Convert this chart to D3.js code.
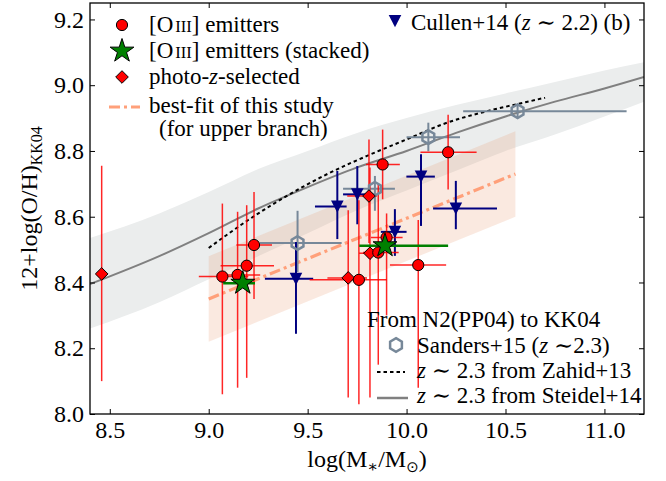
<!DOCTYPE html>
<html>
<head>
<meta charset="utf-8">
<script src="https://cdn.jsdelivr.net/npm/d3@7"></script>
<style>
  body { margin: 0; background: #fff; }
  svg { display: block; }
  text { font-family: "Liberation Serif", "DejaVu Serif", serif; fill: #000; }
</style>
</head>
<body>
<div id="chart"></div>
<script>
// ---------------- data ----------------
const xTicks = [8.5, 9.0, 9.5, 10.0, 10.5, 11.0];
const yTicks = [8.0, 8.2, 8.4, 8.6, 8.8, 9.0, 9.2];

// Steidel+14 relation (converted to KK04) and its scatter band
const steidelX  = [8.4, 8.75, 9.0, 9.25, 9.5, 9.75, 10.0, 10.25, 10.5, 10.75, 11.0, 11.2];
const steidelY  = [8.395, 8.48, 8.55, 8.625, 8.69, 8.75, 8.80, 8.855, 8.905, 8.95, 8.99, 9.025];
const steidelHi = [8.535, 8.61, 8.675, 8.745, 8.80, 8.855, 8.90, 8.94, 8.975, 9.01, 9.045, 9.07];
const steidelLo = [8.26, 8.34, 8.41, 8.48, 8.55, 8.62, 8.68, 8.74, 8.80, 8.85, 8.905, 8.95];

// Zahid+13 relation
const zahidX = [9.0, 9.2, 9.4, 9.6, 9.8, 10.0, 10.2, 10.4, 10.6, 10.7];
const zahidY = [8.505, 8.59, 8.665, 8.73, 8.785, 8.835, 8.885, 8.92, 8.948, 8.962];

// best-fit of this study (upper branch) and its band
const fitX   = [9.0, 10.55];
const fitY   = [8.35, 8.73];
const fitBand = 0.13;

// [OIII] emitters
const oiiiX   = [9.069, 9.146, 9.192, 9.229, 9.759, 9.857, 9.899, 10.059, 9.879, 10.21];
const oiiiY   = [8.418, 8.423, 8.451, 8.514, 8.408, 8.491, 8.537, 8.453, 8.759, 8.796];
const oiiiXLo = [8.95, 9.04, 9.06, 9.14, 9.51, 9.78, 9.82, 9.916, 9.795, 10.07];
const oiiiXHi = [9.20, 9.26, 9.33, 9.32, 9.90, 9.96, 9.98, 10.20, 9.966, 10.354];
const oiiiYLo = [8.06, 8.08, 8.11, 8.35, 8.03, 8.15, 8.30, 8.08, 8.653, 8.683];
const oiiiYHi = [8.64, 8.615, 8.635, 8.675, 8.65, 8.70, 8.61, 8.59, 8.865, 8.91];

// photo-z-selected
const photX   = [8.459, 9.81, 9.705, 9.815];
const photY   = [8.426, 8.663, 8.414, 8.489];
const photXLo = [8.459, 9.70, 9.60, 9.76];
const photXHi = [8.459, 9.85, 9.80, 9.87];
const photYLo = [8.10, 8.52, 8.05, 8.05];
const photYHi = [8.755, 8.835, 8.62, 8.75];

// Cullen+14
const cullX   = [9.441, 9.65, 9.751, 10.073, 10.249, 9.941];
const cullY   = [8.411, 8.631, 8.668, 8.722, 8.625, 8.554];
const cullXLo = [9.284, 9.537, 9.679, 9.999, 10.134, 9.87];
const cullXHi = [9.528, 9.697, 9.815, 10.143, 10.457, 10.0];
const cullYLo = [8.244, 8.532, 8.577, 8.572, 8.562, 8.481];
const cullYHi = [8.523, 8.739, 8.754, 8.79, 8.709, 8.623];

// Sanders+15
const sandX   = [9.449, 9.84, 10.11, 10.561];
const sandY   = [8.52, 8.685, 8.842, 8.921];
const sandXLo = [9.259, 9.679, 10.0, 10.286];
const sandXHi = [9.672, 9.941, 10.27, 11.112];
const sandYLo = [8.432, 8.618, 8.799, 8.90];
const sandYHi = [8.618, 8.724, 8.886, 8.94];

// stacked [OIII] emitters
const stackX   = [9.172, 9.891];
const stackY   = [8.398, 8.512];
const stackXLo = [9.073, 9.761];
const stackXHi = [9.234, 10.21];

// ---------------- layout ----------------
const W = 666, H = 481;
const M = {left: 90, right: 644, top: 3, bottom: 414};
const FS = 24, LFS = 23;

const svg = d3.select("#chart").append("svg").attr("width", W).attr("height", H);
const x = d3.scaleLinear().domain([8.4, 11.2]).range([M.left, M.right]);
const y = d3.scaleLinear().domain([8.0, 9.25]).range([M.bottom, M.top]);

svg.append("defs").append("clipPath").attr("id", "clip")
  .append("rect").attr("x", M.left).attr("y", M.top)
  .attr("width", M.right - M.left).attr("height", M.bottom - M.top);
const g = svg.append("g").attr("clip-path", "url(#clip)");

const zip = (...arrs) => arrs[0].map((_, i) => arrs.map(a => a[i]));

// Steidel band
g.append("path")
  .datum(zip(steidelX, steidelLo, steidelHi))
  .attr("d", d3.area().x(d => x(d[0])).y0(d => y(d[1])).y1(d => y(d[2])).curve(d3.curveMonotoneX))
  .attr("fill", "#ebeded");

// best-fit band
const fitLine = v => fitY[0] + (fitY[1] - fitY[0]) * (v - fitX[0]) / (fitX[1] - fitX[0]);
g.append("path")
  .datum(fitX)
  .attr("d", d3.area().x(d => x(d)).y0(d => y(fitLine(d) - fitBand)).y1(d => y(fitLine(d) + fitBand)))
  .attr("fill", "#e9a27a").attr("fill-opacity", 0.23);

// Steidel line
g.append("path")
  .datum(zip(steidelX, steidelY))
  .attr("d", d3.line().x(d => x(d[0])).y(d => y(d[1])).curve(d3.curveMonotoneX))
  .attr("fill", "none").attr("stroke", "#808080").attr("stroke-width", 2);

// Zahid line
g.append("path")
  .datum(zip(zahidX, zahidY))
  .attr("d", d3.line().x(d => x(d[0])).y(d => y(d[1])).curve(d3.curveMonotoneX))
  .attr("fill", "none").attr("stroke", "#000").attr("stroke-width", 2).attr("stroke-dasharray", "3.5,3");

// best-fit line
g.append("path")
  .datum(fitX)
  .attr("d", d3.line().x(d => x(d)).y(d => y(fitLine(d))))
  .attr("fill", "none").attr("stroke", "#ffa07a").attr("stroke-width", 3.2)
  .attr("stroke-dasharray", "11,4,3,4");

// error bars helper
function errbars(X, Y, XLo, XHi, YLo, YHi, color, width, opacity) {
  const eg = g.append("g").attr("stroke", color).attr("stroke-width", width).attr("stroke-opacity", opacity || 1);
  X.forEach((xv, i) => {
    if (XLo && XHi[i] > XLo[i]) eg.append("line").attr("x1", x(XLo[i])).attr("x2", x(XHi[i])).attr("y1", y(Y[i])).attr("y2", y(Y[i]));
    if (YLo && YHi[i] > YLo[i]) eg.append("line").attr("x1", x(xv)).attr("x2", x(xv)).attr("y1", y(YLo[i])).attr("y2", y(YHi[i]));
  });
}

// marker shapes
function polyPath(n, r, rot, inner) {
  const pts = [];
  const k = inner ? 2 * n : n;
  for (let i = 0; i < k; i++) {
    const a = rot + i * Math.PI * 2 / k;
    const rr = inner && (i % 2 === 1) ? r * inner : r;
    pts.push([rr * Math.sin(a), -rr * Math.cos(a)]);
  }
  return "M" + pts.map(p => p[0].toFixed(2) + "," + p[1].toFixed(2)).join("L") + "Z";
}
const shapes = {
  star: polyPath(5, 12.5, 0, 0.382),
  hex: polyPath(6, 6.8, 0),
  diamond: "M0,-6.3L6.3,0L0,6.3L-6.3,0Z",
  tri: "M-6.3,-6L6.3,-6L0,6.3Z"
};

// Sanders
errbars(sandX, sandY, sandXLo, sandXHi, sandYLo, sandYHi, "#778899", 2);
// Cullen
errbars(cullX, cullY, cullXLo, cullXHi, cullYLo, cullYHi, "#000080", 2);
// photo-z and OIII
errbars(photX, photY, photXLo, photXHi, photYLo, photYHi, "#ff0000", 1.5, 0.85);
errbars(oiiiX, oiiiY, oiiiXLo, oiiiXHi, oiiiYLo, oiiiYHi, "#ff0000", 1.5, 0.85);
// stacked
errbars(stackX, stackY, stackXLo, stackXHi, null, null, "#008000", 2.5);

const mg = svg.append("g");
mg.selectAll(".hex").data(zip(sandX, sandY)).join("path")
  .attr("d", shapes.hex).attr("transform", d => `translate(${x(d[0])},${y(d[1])})`)
  .attr("fill", "none").attr("stroke", "#778899").attr("stroke-width", 2.5);
mg.selectAll(".tri").data(zip(cullX, cullY)).join("path")
  .attr("d", shapes.tri).attr("transform", d => `translate(${x(d[0])},${y(d[1])})`)
  .attr("fill", "#000080");
mg.selectAll(".dia").data(zip(photX, photY)).join("path")
  .attr("d", shapes.diamond).attr("transform", d => `translate(${x(d[0])},${y(d[1])})`)
  .attr("fill", "#ff0000").attr("stroke", "#000").attr("stroke-width", 1);
mg.selectAll(".circ").data(zip(oiiiX, oiiiY)).join("circle")
  .attr("cx", d => x(d[0])).attr("cy", d => y(d[1])).attr("r", 5.6)
  .attr("fill", "#ff0000").attr("stroke", "#000").attr("stroke-width", 1);
mg.selectAll(".star").data(zip(stackX, stackY)).join("path")
  .attr("d", shapes.star).attr("transform", d => `translate(${x(d[0])},${y(d[1])})`)
  .attr("fill", "#008000").attr("stroke", "#000").attr("stroke-width", 1);

// ---------------- axes ----------------
const fmt = d3.format(".1f");
const styleAxis = sel => { sel.select(".domain").remove(); sel.selectAll(".tick line").attr("stroke", "#000").attr("stroke-width", 1); sel.selectAll("text").style("font-size", FS + "px").style("font-family", "'Liberation Serif', serif"); };
svg.append("g").attr("transform", `translate(0,${M.bottom})`)
  .call(d3.axisBottom(x).tickValues(xTicks).tickSize(-5).tickSizeOuter(0).tickPadding(7).tickFormat(fmt)).call(styleAxis);
svg.append("g").attr("transform", `translate(0,${M.top})`)
  .call(d3.axisTop(x).tickValues(xTicks).tickSize(-5).tickSizeOuter(0).tickFormat("")).call(styleAxis);
svg.append("g").attr("transform", `translate(${M.left},0)`)
  .call(d3.axisLeft(y).tickValues(yTicks).tickSize(-5).tickSizeOuter(0).tickPadding(6).tickFormat(fmt)).call(styleAxis);
svg.append("g").attr("transform", `translate(${M.right},0)`)
  .call(d3.axisRight(y).tickValues(yTicks).tickSize(-5).tickSizeOuter(0).tickFormat("")).call(styleAxis);

svg.append("rect").attr("x", M.left).attr("y", M.top)
  .attr("width", M.right - M.left).attr("height", M.bottom - M.top)
  .attr("fill", "none").attr("stroke", "#000").attr("stroke-width", 1.3);

// axis labels
const xl = svg.append("text").attr("x", (M.left + M.right) / 2).attr("y", 467)
  .attr("text-anchor", "middle").style("font-size", FS + "px");
xl.append("tspan").text("log(M");
xl.append("tspan").text("∗").attr("dy", 5).style("font-size", "16px");
xl.append("tspan").text("/M").attr("dy", -5);
xl.append("tspan").text("⊙").attr("dy", 5).style("font-size", "15px").style("font-family", "'DejaVu Sans', sans-serif");
xl.append("tspan").text(")").attr("dy", -5);

const yl = svg.append("text").attr("transform", `translate(37,${(M.top + M.bottom) / 2}) rotate(-90)`)
  .attr("text-anchor", "middle").style("font-size", FS + "px");
yl.append("tspan").text("12+log(O/H)");
yl.append("tspan").text("KK04").attr("dy", 5).style("font-size", "16px");

// ---------------- legends ----------------
function oiiiText(sel, suffix) {
  sel.append("tspan").text("[O");
  sel.append("tspan").text("III").style("font-size", (LFS * 0.72) + "px").attr("dx", 2);
  sel.append("tspan").text("] emitters" + suffix);
}
const L = svg.append("g");
L.append("circle").attr("cx", 122).attr("cy", 25).attr("r", 5.6).attr("fill", "#ff0000").attr("stroke", "#000");
oiiiText(L.append("text").attr("x", 149).attr("y", 32).style("font-size", LFS + "px"), "");
L.append("path").attr("d", shapes.star).attr("transform", "translate(122,51)").attr("fill", "#008000").attr("stroke", "#000");
oiiiText(L.append("text").attr("x", 149).attr("y", 58).style("font-size", LFS + "px"), " (stacked)");
L.append("path").attr("d", shapes.diamond).attr("transform", "translate(122,77)").attr("fill", "#ff0000").attr("stroke", "#000");
const pz = L.append("text").attr("x", 149).attr("y", 84).style("font-size", LFS + "px");
pz.append("tspan").text("photo-");
pz.append("tspan").text("z").style("font-style", "italic");
pz.append("tspan").text("-selected");
L.append("line").attr("x1", 109).attr("x2", 140).attr("y1", 107).attr("y2", 107)
  .attr("stroke", "#ffa07a").attr("stroke-width", 3.2).attr("stroke-dasharray", "11,4,3,4");
L.append("text").attr("x", 149).attr("y", 113).style("font-size", LFS + "px").text("best-fit of this study");
L.append("text").attr("x", 159).attr("y", 136).style("font-size", LFS + "px").text("(for upper branch)");

// Cullen legend
L.append("path").attr("d", shapes.tri).attr("transform", "translate(395,21)").attr("fill", "#000080");
const cu = L.append("text").attr("x", 411).attr("y", 30).style("font-size", LFS + "px");
cu.append("tspan").text("Cullen+14 (");
cu.append("tspan").text("z").style("font-style", "italic");
cu.append("tspan").text(" ∼ 2.2) (b)");

// bottom-right legend
L.append("text").attr("x", 367).attr("y", 327).style("font-size", LFS + "px").text("From N2(PP04) to KK04");
L.append("path").attr("d", shapes.hex).attr("transform", "translate(396,345)")
  .attr("fill", "none").attr("stroke", "#778899").attr("stroke-width", 2.5);
const sa = L.append("text").attr("x", 417).attr("y", 353).style("font-size", LFS + "px");
sa.append("tspan").text("Sanders+15 (");
sa.append("tspan").text("z").style("font-style", "italic");
sa.append("tspan").text(" ∼2.3)");
L.append("line").attr("x1", 377).attr("x2", 405).attr("y1", 372).attr("y2", 372)
  .attr("stroke", "#000").attr("stroke-width", 2).attr("stroke-dasharray", "3.5,3");
const za = L.append("text").attr("x", 417).attr("y", 378).style("font-size", LFS + "px");
za.append("tspan").text("z").style("font-style", "italic");
za.append("tspan").text(" ∼ 2.3 from Zahid+13");
L.append("line").attr("x1", 377).attr("x2", 408).attr("y1", 398).attr("y2", 398)
  .attr("stroke", "#808080").attr("stroke-width", 2.5);
const st = L.append("text").attr("x", 417).attr("y", 403).style("font-size", LFS + "px");
st.append("tspan").text("z").style("font-style", "italic");
st.append("tspan").text(" ∼ 2.3 from Steidel+14");
</script>
</body>
</html>
